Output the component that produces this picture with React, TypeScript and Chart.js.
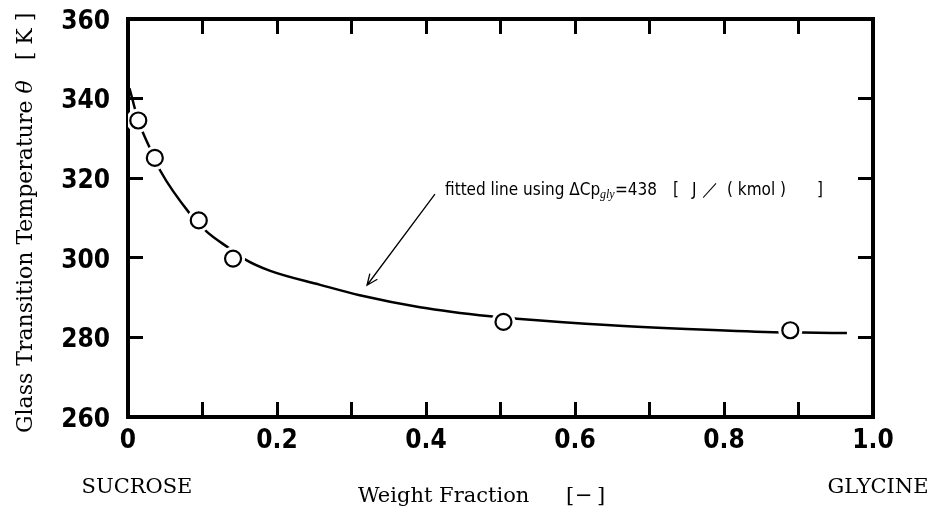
import React, { useEffect, useRef } from 'react';
import { Chart, registerables } from 'chart.js';

Chart.register(...registerables);

// ---- data ----
const X_TICK_VALUES = [0, 0.2, 0.4, 0.6, 0.8, 1.0];
const X_TICK_LABELS = ['0', '0.2', '0.4', '0.6', '0.8', '1.0'];
const Y_TICK_VALUES = [260, 280, 300, 320, 340, 360];
const Y_TICK_LABELS = ['260', '280', '300', '320', '340', '360'];

// measured glass transition temperatures (open circles)
const MEASURED_W = [0.0138, 0.036, 0.095, 0.141, 0.504, 0.889];
const MEASURED_T = [334.5, 325.1, 309.4, 299.8, 283.9, 281.8];

// fitted curve
const FIT_W = [0.002, 0.014, 0.03, 0.043, 0.083, 0.106, 0.135, 0.157, 0.191, 0.258, 0.311, 0.392, 0.486, 0.522, 0.643, 0.75, 0.866, 0.906, 0.965];
const FIT_T = [342.6, 334.4, 327.3, 322.0, 311.1, 306.5, 302.5, 299.6, 296.7, 293.2, 290.6, 287.6, 285.3, 284.7, 283.1, 282.1, 281.3, 281.2, 281.1];

// annotation anchor points (data units)
const NOTE_AT = { x: 0.4255, y: 315.7 };
const ARROW_FROM = { x: 0.412, y: 316.0 };
const ARROW_TO = { x: 0.3208, y: 293.1 };

const TICK_FONT = '"DejaVu Sans Condensed", "Liberation Sans Narrow", "Liberation Sans", sans-serif';
const NOTE_FONT = '"DejaVu Sans Condensed", "Liberation Sans Narrow", "Liberation Sans", sans-serif';
const SERIF = '"DejaVu Serif", "Liberation Serif", serif';

const near = (a: number, b: number) => Math.abs(a - b) < 1e-6;

const tickColorX = (c: any) =>
  c.tick && (near(c.tick.value, 0) || near(c.tick.value, 1)) ? 'rgba(0,0,0,0)' : '#000';
const tickColorY = (c: any) =>
  c.tick && (near(c.tick.value, 260) || near(c.tick.value, 360)) ? 'rgba(0,0,0,0)' : '#000';

const gridX = { drawOnChartArea: false, drawTicks: true, tickLength: -15, tickWidth: 3, lineWidth: 3, tickColor: tickColorX };
const gridY = { drawOnChartArea: false, drawTicks: true, tickLength: -15, tickWidth: 3, lineWidth: 3, tickColor: tickColorY };
const border = { display: true, width: 4, color: '#000' };

const fitH = (h: number) => (s: any) => { s.height = h; s.paddingLeft = 0; s.paddingRight = 0; };
const fitW = (w: number) => (s: any) => { s.width = w; s.paddingTop = 0; s.paddingBottom = 0; };

const decor = {
  id: 'decor',
  afterDraw(chart: any) {
    const ctx: CanvasRenderingContext2D = chart.ctx;
    const xs = chart.scales.x;
    const ys = chart.scales.y;
    ctx.save();
    ctx.fillStyle = '#000';
    ctx.strokeStyle = '#000';
    ctx.textAlign = 'left';
    ctx.textBaseline = 'alphabetic';

    // arrow
    const x1 = xs.getPixelForValue(ARROW_FROM.x), y1 = ys.getPixelForValue(ARROW_FROM.y);
    const x2 = xs.getPixelForValue(ARROW_TO.x), y2 = ys.getPixelForValue(ARROW_TO.y);
    ctx.lineWidth = 1.3;
    ctx.beginPath();
    ctx.moveTo(x1, y1);
    ctx.lineTo(x2, y2);
    const ang = Math.atan2(y1 - y2, x1 - x2);
    const hl = 12, ha = 0.4;
    ctx.moveTo(x2 + hl * Math.cos(ang + ha), y2 + hl * Math.sin(ang + ha));
    ctx.lineTo(x2, y2);
    ctx.lineTo(x2 + hl * Math.cos(ang - ha), y2 + hl * Math.sin(ang - ha));
    ctx.stroke();

    // note text
    const nx = xs.getPixelForValue(NOTE_AT.x), ny = ys.getPixelForValue(NOTE_AT.y);
    const nf = `17px ${NOTE_FONT}`;
    const parts: [string, number, string, number][] = [
      ['fitted line using ΔCp', 0, nf, 0],
      ['gly', 155, `italic 12px "Liberation Serif", serif`, 3],
      ['=438', 170, nf, 0],
      ['[', 228, nf, 0],
      ['J', 247, nf, 0],
      ['／', 257, nf, 0],
      ['( kmol )', 282, nf, 0],
      ['[', -1, nf, 0],
    ];
    for (const [t, dx, f, dy] of parts) {
      if (dx < 0) continue;
      ctx.font = f;
      ctx.fillText(t, nx + dx, ny + dy);
    }
    ctx.font = nf;
    ctx.fillText(']', nx + 372, ny);

    // x-axis title and end labels
    ctx.font = `21px ${SERIF}`;
    ctx.fillText('Weight Fraction', 358, 502);
    ctx.fillText('[', 566, 502);
    ctx.fillText('−', 575, 502);
    ctx.fillText(']', 597, 502);
    ctx.textAlign = 'center';
    ctx.fillText('SUCROSE', 137, 493);
    ctx.fillText('GLYCINE', 878, 493);

    // y-axis title (rotated)
    ctx.save();
    ctx.translate(32, 433);
    ctx.rotate(-Math.PI / 2);
    ctx.textAlign = 'left';
    ctx.font = `22px ${SERIF}`;
    const t1 = 'Glass Transition Temperature ';
    ctx.fillText(t1, 0, 0);
    let end = ctx.measureText(t1).width;
    ctx.font = `italic 22px ${SERIF}`;
    ctx.fillText('θ', end, 0);
    end += ctx.measureText('θ').width;
    ctx.font = `22px ${SERIF}`;
    ctx.fillText('[ K ]', end + 20, 0);
    ctx.restore();

    ctx.restore();
  },
};

export default function App() {
  const ref = useRef<HTMLCanvasElement | null>(null);
  useEffect(() => {
    document.body.style.margin = '0';
    const measured = MEASURED_W.map((w, i) => ({ x: w, y: MEASURED_T[i] }));
    const fitted = FIT_W.map((w, i) => ({ x: w, y: FIT_T[i] }));
    const chart = new Chart(ref.current as HTMLCanvasElement, {
      type: 'scatter',
      data: {
        datasets: [
          {
            label: 'measured',
            data: measured,
            order: 0,
            pointRadius: 8,
            pointBorderWidth: 2.2,
            pointBackgroundColor: '#fff',
            pointBorderColor: '#000',
            showLine: false,
          },
          {
            label: 'gap',
            data: measured,
            order: 1,
            pointRadius: 12,
            pointBorderWidth: 0,
            pointBackgroundColor: '#fff',
            pointBorderColor: '#fff',
            showLine: false,
          },
          {
            label: 'fitted line',
            data: fitted,
            order: 2,
            showLine: true,
            pointRadius: 0,
            borderColor: '#000',
            borderWidth: 2.5,
            cubicInterpolationMode: 'monotone',
            fill: false,
          },
        ],
      } as any,
      options: {
        responsive: false,
        animation: false,
        devicePixelRatio: 1,
        events: [],
        layout: { padding: 0 },
        plugins: { legend: { display: false }, tooltip: { enabled: false } },
        scales: {
          x: {
            type: 'linear',
            position: 'bottom',
            min: 0,
            max: 1,
            afterFit: fitH(95),
            ticks: {
              stepSize: 0.1,
              autoSkip: false,
              maxRotation: 0,
              padding: 24,
              color: '#000',
              font: { family: TICK_FONT, size: 26, weight: 'bold' },
              callback: (v: any) => {
                const i = X_TICK_VALUES.findIndex((t) => near(t, Number(v)));
                return i >= 0 ? X_TICK_LABELS[i] : '';
              },
            },
            grid: gridX,
            border,
          },
          x2: {
            type: 'linear',
            position: 'top',
            min: 0,
            max: 1,
            afterFit: fitH(19),
            ticks: { stepSize: 0.1, display: false, autoSkip: false },
            grid: gridX,
            border,
          },
          y: {
            type: 'linear',
            position: 'left',
            min: 260,
            max: 360,
            afterFit: fitW(128),
            ticks: {
              stepSize: 20,
              autoSkip: false,
              padding: 33,
              labelOffset: 3,
              color: '#000',
              font: { family: TICK_FONT, size: 26, weight: 'bold' },
              callback: (v: any) => {
                const i = Y_TICK_VALUES.findIndex((t) => near(t, Number(v)));
                return i >= 0 ? Y_TICK_LABELS[i] : '';
              },
            },
            grid: gridY,
            border,
          },
          y2: {
            type: 'linear',
            position: 'right',
            min: 260,
            max: 360,
            afterFit: fitW(62),
            ticks: { stepSize: 20, display: false, autoSkip: false },
            grid: gridY,
            border,
          },
        },
      } as any,
      plugins: [decor as any],
    });
    return () => chart.destroy();
  }, []);
  return (
    <div style={{ width: 935, height: 512 }}>
      <canvas ref={ref} width={935} height={512} style={{ display: 'block', width: 935, height: 512 }} />
    </div>
  );
}
